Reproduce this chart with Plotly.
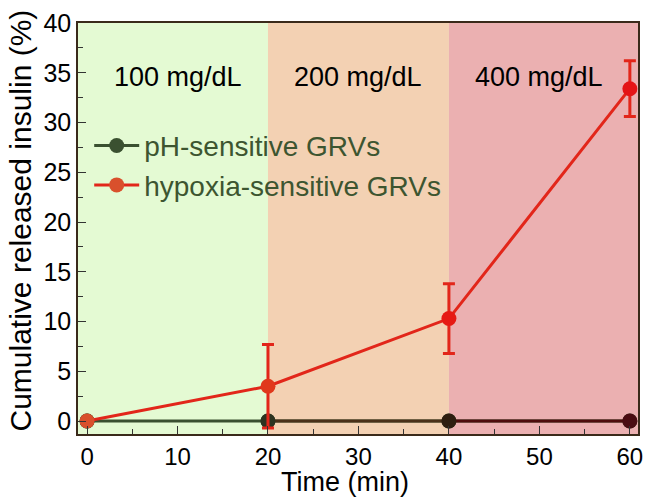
import plotly.graph_objects as go

time = [0, 20, 40, 60]
ph_vals = [0, 0, 0, 0]
hyp_vals = [0, 3.5, 10.3, 33.4]
hyp_err = [0, 4.2, 3.5, 2.8]
region_bounds = [20, 40]
region_labels = ["100 mg/dL", "200 mg/dL", "400 mg/dL"]
region_label_x = [10, 30, 50]
region_label_y = 34.6
x_title = "Time (min)"
y_title = "Cumulative released insulin (%)"

FONT = "Liberation Sans, Arial, sans-serif"

ph_marker_colors = ["#3a5030", "#2c3320", "#2e1e10", "#4a0c12"]
hyp_marker_colors = ["#d9502c", "#e0381c", "#e61a14", "#e41416"]

fig = go.Figure()
fig.add_trace(go.Scatter(
    x=time, y=ph_vals, mode="lines+markers", name="pH-sensitive GRVs",
    line=dict(color="#3a5030", width=3),
    marker=dict(size=15, color=ph_marker_colors[0], line=dict(width=0)),
    legendrank=1,
))
fig.add_trace(go.Scatter(
    x=time[1:3], y=ph_vals[1:3], mode="lines", showlegend=False,
    line=dict(color="#4a3018", width=3), hoverinfo="skip",
))
fig.add_trace(go.Scatter(
    x=time[2:4], y=ph_vals[2:4], mode="lines", showlegend=False,
    line=dict(color="#4e0c0c", width=3), hoverinfo="skip",
))
fig.add_trace(go.Scatter(
    x=time, y=ph_vals, mode="markers", showlegend=False,
    marker=dict(size=15, color=ph_marker_colors, line=dict(width=0)),
))
fig.add_trace(go.Scatter(
    x=time, y=hyp_vals, mode="lines+markers", name="hypoxia-sensitive GRVs",
    line=dict(color="#e2261a", width=3),
    marker=dict(size=15, color=hyp_marker_colors, line=dict(width=0)),
    error_y=dict(type="data", array=hyp_err, visible=True, color="#e2261a", thickness=3, width=6),
    legendrank=2,
))

fig.add_shape(type="rect", xref="x", yref="paper", x0=region_bounds[0], x1=region_bounds[1], y0=0, y1=1,
              fillcolor="#f3d1b3", line=dict(width=0), layer="below")
fig.add_shape(type="rect", xref="x", yref="paper", x0=region_bounds[1], x1=62, y0=0, y1=1,
              fillcolor="#ebb0b1", line=dict(width=0), layer="below")

for lx, lt in zip(region_label_x, region_labels):
    fig.add_annotation(x=lx, y=region_label_y, text=lt, showarrow=False,
                       font=dict(family=FONT, size=27, color="black"))

fig.add_annotation(x=0.5, y=0, xref="paper", yref="paper", text=x_title, showarrow=False,
                   xanchor="center", yanchor="middle", xshift=-13, yshift=-48,
                   font=dict(family=FONT, size=27, color="black"))
fig.add_annotation(x=0, y=0.5, xref="paper", yref="paper", text=y_title, showarrow=False,
                   textangle=-90, xanchor="center", yanchor="middle", xshift=-58, yshift=8,
                   font=dict(family=FONT, size=30, color="black"))

fig.update_layout(
    width=652, height=500,
    margin=dict(l=78, r=9, t=14, b=66),
    paper_bgcolor="white",
    plot_bgcolor="#e4fad3",
    font=dict(family=FONT, size=25, color="black"),
    showlegend=True,
    legend=dict(x=0.02, y=0.762, xanchor="left", yanchor="top", bgcolor="rgba(0,0,0,0)",
                font=dict(family=FONT, size=28, color="#3d5530"), itemwidth=45,
                tracegroupgap=0),
)
fig.update_xaxes(
    range=[-1, 60.9], tickvals=[0, 10, 20, 30, 40, 50, 60],
    ticks="inside", ticklen=8, tickwidth=1.2, tickcolor="#333",
    minor=dict(ticks="inside", ticklen=5, dtick=5, tick0=0, tickcolor="#333"),
    showline=True, linecolor="#3a2a1a", linewidth=1.5, mirror=True,
    showgrid=False, zeroline=False,
    tickfont=dict(size=24), ticklabeloverflow="allow",
)
fig.update_yaxes(
    range=[-1.3, 40], tickvals=[0, 5, 10, 15, 20, 25, 30, 35, 40],
    ticks="inside", ticklen=8, tickwidth=1.2, tickcolor="#333",
    minor=dict(ticks="inside", ticklen=5, dtick=2.5, tick0=0, tickcolor="#333"),
    showline=True, linecolor="#3a2a1a", linewidth=1.5, mirror=True,
    showgrid=False, zeroline=False,
    tickfont=dict(size=25), ticklabeloverflow="allow",
)

fig.write_html("out.html", config={"displayModeBar": False},
               post_script="document.body.style.margin='0';")
